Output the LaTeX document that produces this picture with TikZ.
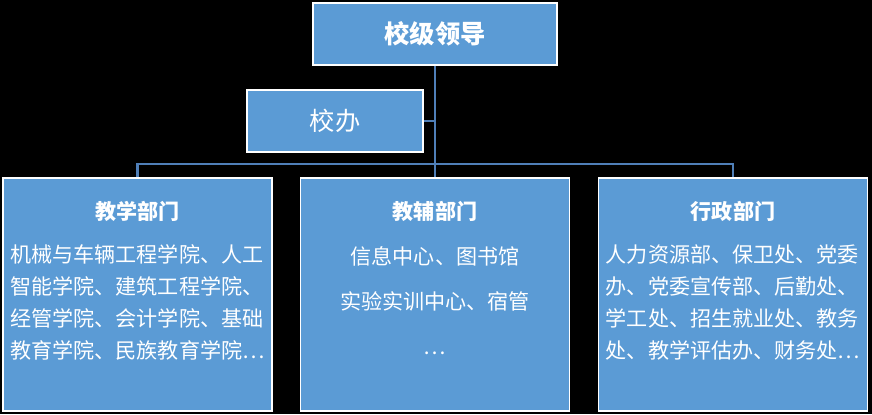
\documentclass[tikz,border=0pt]{standalone}
\usepackage{fontspec}
\newfontfamily\cjk{Noto Sans CJK SC}
\usetikzlibrary{positioning}
\definecolor{boxblue}{HTML}{5B9BD5}
\definecolor{linkblue}{HTML}{4F7FB8}

\begin{document}
\begin{tikzpicture}[
  box/.style={draw=white,line width=1.4pt,fill=boxblue,inner sep=0pt},
  link/.style={draw=linkblue,line width=2.1pt},
  head/.style={text=white,inner sep=0pt,font=\cjk\bfseries\fontsize{15}{18}\selectfont},
  body/.style={text=white,inner sep=0pt,align=left,font=\cjk\fontsize{15}{22.8}\selectfont}]
\fill[black] (0,0) rectangle (21.8,10.35);
\useasboundingbox (0,0) rectangle (21.8,10.35);
% top levels
\node[box,minimum width=6.1cm,minimum height=1.55cm,text=white,font=\cjk\bfseries\fontsize{18}{20}\selectfont] (lead) at (10.875,9.5) {校级领导};
\node[box,minimum width=4.4cm,minimum height=1.55cm,text=white,font=\cjk\fontsize{18}{20}\selectfont] (office) at (8.375,7.325) {校办};
% departments
\node[box,minimum width=6.725cm,minimum height=5.825cm] (teach) at (3.4375,2.9875) {};
\node[box,minimum width=6.725cm,minimum height=5.825cm] (support) at (10.875,2.9875) {};
\node[box,minimum width=6.725cm,minimum height=5.825cm] (admin) at (18.325,2.9875) {};
\node[head] (teachhead) at ([yshift=-0.85cm]teach.north) {教学部门};
\node[head] (supporthead) at ([yshift=-0.85cm]support.north) {教辅部门};
\node[head] (adminhead) at ([yshift=-0.85cm]admin.north) {行政部门};
\node[body,anchor=north] (teachbody) at ([yshift=-1.675cm]teach.north) {机械与车辆工程学院、人工\\智能学院、建筑工程学院、\\经管学院、会计学院、基础\\教育学院、民族教育学院…};
\node[body,anchor=north,align=center,font=\cjk\fontsize{15}{32}\selectfont] (supportbody) at ([yshift=-1.725cm]support.north) {信息中心、图书馆\\实验实训中心、宿管\\…};
\node[body,anchor=north] (adminbody) at ([yshift=-1.675cm]admin.north) {人力资源部、保卫处、党委\\办、党委宣传部、后勤处、\\学工处、招生就业处、教务\\处、教学评估办、财务处…};
% connectors
\draw[link] (lead.south) -- (support.north);
\draw[link] (office.east) -- (office.east -| lead.south);
\draw[link] (teach.north) -- ++(0,0.325) -| (admin.north);
\end{tikzpicture}
\end{document}
